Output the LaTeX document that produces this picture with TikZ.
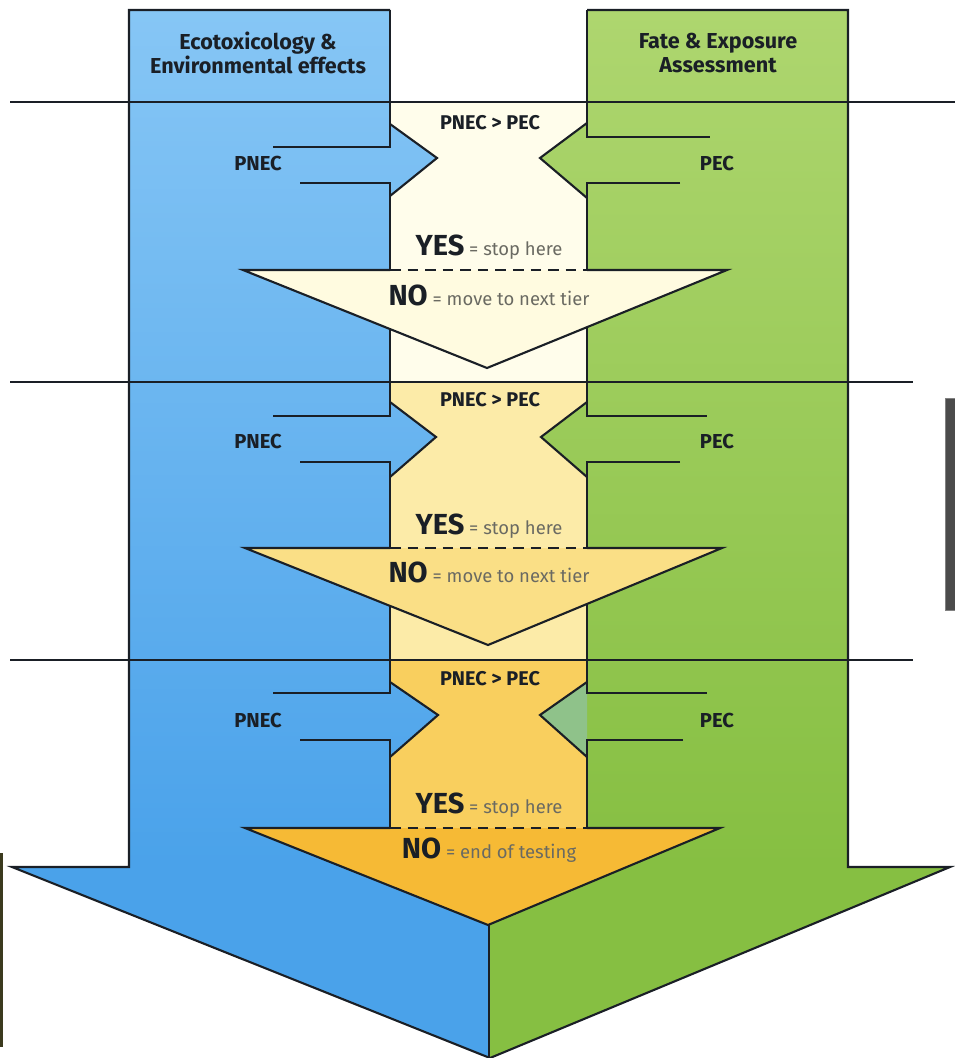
\documentclass[tikz,border=0pt]{standalone}
\usepackage{fontspec}
\setmainfont{Fira Sans}
\definecolor{blueT}{HTML}{86C6F5}
\definecolor{blueB}{HTML}{4AA2EA}
\definecolor{greenT}{HTML}{AED66F}
\definecolor{greenB}{HTML}{86BF42}
\definecolor{greenHeadC}{HTML}{8FC28A}
\definecolor{midA}{HTML}{FFFDEB}
\definecolor{midB}{HTML}{FCEBA8}
\definecolor{midC}{HTML}{F9CF5E}
\definecolor{triA}{HTML}{FFFBE0}
\definecolor{triB}{HTML}{FADF86}
\definecolor{triC}{HTML}{F6BA35}
\definecolor{ink}{HTML}{1A1F26}
\definecolor{soft}{HTML}{6A6A62}
\definecolor{artgray}{HTML}{4B4B4B}
\definecolor{artolive}{HTML}{3B3A1E}
\tikzset{
  outline/.style={draw=ink, line width=1.2pt, line join=miter},
  rule/.style={draw=ink, line width=1.1pt},
  title/.style={font=\bfseries\fontsize{12.3}{14}\selectfont, text=ink, align=center},
  sidelbl/.style={font=\bfseries\fontsize{11.5}{13}\selectfont, text=ink},
  cmp/.style={font=\bfseries\fontsize{11.3}{13}\selectfont, text=ink},
  answer/.style={font=\fontsize{10.5}{12}\selectfont, text=soft, inner sep=0pt},
}
\newcommand{\bigword}[1]{{\bfseries\color{ink}\fontsize{16.5}{18}\selectfont #1}}
\begin{document}
\begin{tikzpicture}[x=0.02cm, y=-0.02cm]
\useasboundingbox (0,0) rectangle (955,1058);
% big arrow head halves
\fill[blueB] (12,867) -- (490,867) -- (490,1058) -- cycle;
\fill[greenB] (490,867) -- (950,867) -- (490,1058) -- cycle;
% middle stripe fills
\fill[midA] (390,102) rectangle (587,382);
\fill[midB] (390,382) rectangle (587,660);
\fill[midC] (390,660) rectangle (587,867);
% bands with their arrow heads
\shade[top color=blueT, bottom color=blueB]
  (129,10) -- (390,10) -- (390,124) -- (437,158) -- (390,196)
  -- (390,402) -- (436,437) -- (390,477)
  -- (390,682) -- (438,715) -- (390,757)
  -- (390,867) -- (129,867) -- cycle;
\shade[top color=greenT, bottom color=greenB]
  (848,10) -- (587,10) -- (587,123) -- (540,158) -- (587,198)
  -- (587,402) -- (541,437) -- (587,477)
  -- (587,682) -- (540,715) -- (587,757)
  -- (587,867) -- (848,867) -- cycle;
\fill[greenHeadC] (587,682) -- (540,715) -- (587,757) -- cycle;
% outer outline
\draw[outline] (390,10) -- (129,10) -- (129,867) -- (12,867) -- (490,1058) -- (950,867) -- (848,867) -- (848,10) -- (587,10);
% inner band edges with notches, blue side
\draw[outline] (390,10) -- (390,147) -- (273,147);
\draw[outline] (300,183) -- (390,183) -- (390,416) -- (273,416);
\draw[outline] (300,462) -- (390,462) -- (390,693) -- (273,693);
\draw[outline] (300,740) -- (390,740) -- (390,860);
% green side
\draw[outline] (587,10) -- (587,137) -- (710,137);
\draw[outline] (680,183) -- (587,183) -- (587,416) -- (707,416);
\draw[outline] (680,462) -- (587,462) -- (587,693) -- (707,693);
\draw[outline] (683,740) -- (587,740) -- (587,860);
% arrow head strokes
\draw[outline] (390,124) -- (437,158) -- (390,196);
\draw[outline] (390,402) -- (436,437) -- (390,477);
\draw[outline] (390,682) -- (438,715) -- (390,757);
\draw[outline] (587,123) -- (540,158) -- (587,198);
\draw[outline] (587,402) -- (541,437) -- (587,477);
\draw[outline] (587,682) -- (540,715) -- (587,757);
% triangles
\fill[triA] (243,270) -- (727,270) -- (487,368) -- cycle;
\fill[triB] (245,548) -- (722,548) -- (488,645) -- cycle;
\fill[triC] (245,828) -- (720,828) -- (488,925) -- cycle;
\draw[outline] (390,270) -- (243,270) -- (487,368) -- (727,270) -- (587,270);
\draw[outline] (390,548) -- (245,548) -- (488,645) -- (722,548) -- (587,548);
\draw[outline] (390,828) -- (245,828) -- (488,925) -- (720,828) -- (587,828);
\draw[outline, dash pattern=on 6pt off 4pt] (390,270) -- (587,270);
\draw[outline, dash pattern=on 6pt off 4pt] (390,548) -- (587,548);
\draw[outline, dash pattern=on 6pt off 4pt] (390,828) -- (587,828);
% centre split of big arrow
\draw[outline] (489,925) -- (489,1058);
% horizontal rules
\draw[rule] (10,102) -- (955,102);
\draw[rule] (10,382) -- (913,382);
\draw[rule] (10,660) -- (913,660);
% edge artefacts
\filldraw[fill=artgray, draw=artgray!70] (945,398) rectangle (955,610);
\fill[artolive] (0,853) rectangle (3,1047);
% titles
\node[title] (tleft) at (258,53) {Ecotoxicology \&\\Environmental effects};
\node[title] (tright) at (718,53) {Fate \& Exposure\\Assessment};
% tier labels
\node[sidelbl] (pnecA) at (258,163) {PNEC};
\node[sidelbl] (pecA) at (717,163) {PEC};
\node[cmp] (cmpA) at (490,123) {PNEC > PEC};
\node[sidelbl] (pnecB) at (258,441) {PNEC};
\node[sidelbl] (pecB) at (717,441) {PEC};
\node[cmp] (cmpB) at (490,400) {PNEC > PEC};
\node[sidelbl] (pnecC) at (258,720) {PNEC};
\node[sidelbl] (pecC) at (717,720) {PEC};
\node[cmp] (cmpC) at (490,679) {PNEC > PEC};
% yes / no
\node[answer] (yesA) at (489,247) {\bigword{YES} = stop here};
\node[answer] (noA) at (489,295) {\bigword{NO} = move to next tier};
\node[answer] (yesB) at (489,526) {\bigword{YES} = stop here};
\node[answer] (noB) at (489,572) {\bigword{NO} = move to next tier};
\node[answer] (yesC) at (489,805) {\bigword{YES} = stop here};
\node[answer] (noC) at (489,850) {\bigword{NO} = end of testing};
\end{tikzpicture}
\end{document}
